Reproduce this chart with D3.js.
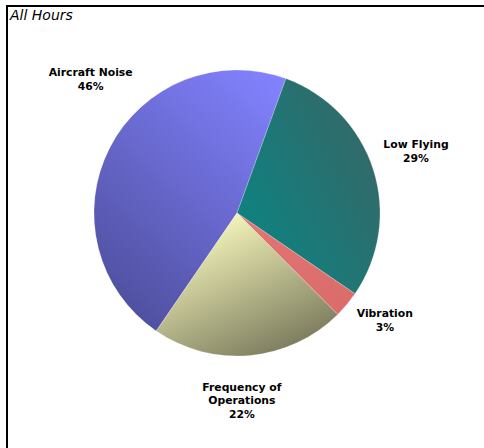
<!DOCTYPE html>
<html><head><meta charset="utf-8">
<script src="https://cdn.jsdelivr.net/npm/d3@7"></script>
<style>html,body{margin:0;padding:0;background:#fff;overflow:hidden}</style>
</head><body>
<script>
const title = "All Hours";
const categories = ["Aircraft Noise", "Low Flying", "Vibration", "Frequency of Operations"];
const labelLines = [["Aircraft Noise"], ["Low Flying"], ["Vibration"], ["Frequency of", "Operations"]];
const values = [46, 29, 3, 22];

const W = 484, H = 448;
const cx = 237, cy = 213, R = 143;
const svg = d3.select("body").append("svg").attr("width", W).attr("height", H);

svg.append("path").attr("d", `M7,${H+5} L7,6 L${W+5},6`).attr("fill", "none").attr("stroke", "#000").attr("stroke-width", 2);
svg.append("text").attr("x", 10).attr("y", 19.5).text(title)
  .attr("font-family", "DejaVu Sans").attr("font-style", "italic").attr("font-size", 14).attr("fill", "#000");

const grads = [
  {x1: 0.9, y1: 0.0, x2: 0.25, y2: 1.0, c1: "#8282ff", c2: "#4f4f9f"},
  {x1: 0.1, y1: 0.75, x2: 0.95, y2: 0.1, c1: "#0e8280", c2: "#386666"},
  {x1: 0, y1: 0, x2: 1, y2: 1, c1: "#e57575", c2: "#d96b6b"},
  {x1: 0.25, y1: 0.1, x2: 0.75, y2: 0.95, c1: "#f4f4ba", c2: "#7c7c5e"}
];
const defs = svg.append("defs");
grads.forEach((g, i) => {
  const lg = defs.append("linearGradient").attr("id", "g" + i)
    .attr("x1", g.x1).attr("y1", g.y1).attr("x2", g.x2).attr("y2", g.y2);
  lg.append("stop").attr("offset", 0).attr("stop-color", g.c1);
  lg.append("stop").attr("offset", 1).attr("stop-color", g.c2);
});

const start = 214.4 * Math.PI / 180;
const pie = d3.pie().sort(null).value(d => d).startAngle(start).endAngle(start + 2 * Math.PI);
const arcs = pie(values);
const arc = d3.arc().innerRadius(0).outerRadius(R);
const g = svg.append("g").attr("transform", `translate(${cx},${cy})`);
g.selectAll("path").data(arcs).join("path")
  .attr("d", arc).attr("fill", (d, i) => `url(#g${i})`)
  .attr("stroke", "rgba(255,255,255,0.35)").attr("stroke-width", 0.6);

const labelArc = d3.arc().innerRadius(R * 1.3).outerRadius(R * 1.3);
const nudges = [[19, -49], [2, -5], [5, -12], [-12, 2]];
const lh = 13.5;
arcs.forEach((a, i) => {
  const [x, y] = labelArc.centroid(a);
  const lines = labelLines[i].concat([values[i] + "%"]);
  const x0 = x + nudges[i][0], y0 = y + nudges[i][1] - (lines.length - 1) * lh / 2;
  const t = g.append("text").attr("text-anchor", "middle")
    .attr("font-family", "DejaVu Sans").attr("font-weight", "bold").attr("font-size", 10.8).attr("fill", "#000");
  lines.forEach((l, j) => t.append("tspan").attr("x", x0).attr("y", y0 + j * lh + 4).text(l));
});
</script>
</body></html>
